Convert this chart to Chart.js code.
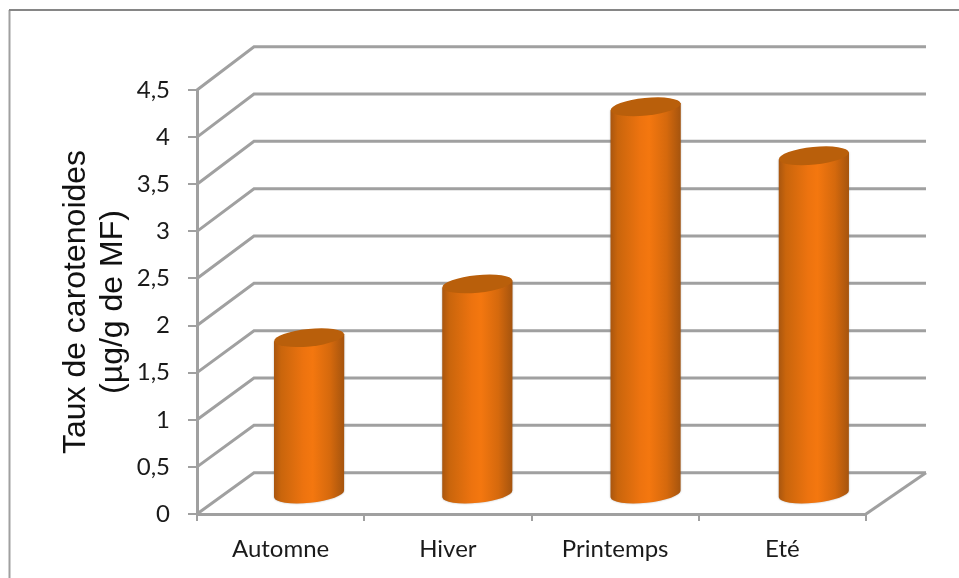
<!DOCTYPE html>
<html>
<head>
<meta charset="utf-8">
<title>Taux de carotenoides</title>
<script src="https://cdn.jsdelivr.net/npm/chart.js@4"></script>
<style>
  html, body { margin: 0; padding: 0; background: #fff; }
  #wrap { position: relative; width: 959px; height: 578px; overflow: hidden; }
</style>
</head>
<body>
<div id="wrap"><canvas id="myChart" width="959" height="578"></canvas></div>
<script>
"use strict";
const seasons = ["Automne", "Hiver", "Printemps", "Eté"];
const carotenoids = [1.67, 2.24, 4.12, 3.6];
const yTitleLines = ["Taux de carotenoides", "(µg/g de MF)"];
const yMax = 4.5;
const yStep = 0.5;

// receding floor offset of the fake 3D box
const depthX = 57;
const depthY = 41.3;
// the back wall is a touch larger than the front plane
const backStretchX = 3;
const backStretchY = 0.0047;
// the cylinders stand in the middle of the floor
const barShiftX = 28;
const barShiftY = 19;
const gridColor = "#a0a0a0";

// outer frame, open on the right and at the bottom
const framePlugin = {
  id: "frame",
  beforeDraw(chart) {
    const ctx = chart.ctx;
    ctx.save();
    ctx.lineWidth = 2;
    ctx.strokeStyle = "#a0a0a0";
    ctx.beginPath();
    ctx.moveTo(9.5, 578);
    ctx.lineTo(9.5, 10);
    ctx.stroke();
    ctx.strokeStyle = "#868686";
    ctx.beginPath();
    ctx.moveTo(9, 10);
    ctx.lineTo(959, 10);
    ctx.stroke();
    ctx.restore();
  }
};

// side wall and back wall grid lines, plus the floor edge on the right
const boxGridPlugin = {
  id: "boxGrid",
  beforeDatasetsDraw(chart) {
    const ctx = chart.ctx;
    const area = chart.chartArea;
    const y = chart.scales.y;
    const floor = y.getPixelForValue(0);
    const backRight = area.right + depthX + backStretchX;
    ctx.save();
    ctx.strokeStyle = gridColor;
    ctx.lineWidth = 3;
    y.ticks.forEach(tick => {
      const py = y.getPixelForValue(tick.value);
      const backY = py - depthY - (floor - py) * backStretchY;
      ctx.beginPath();
      ctx.moveTo(area.left, py);
      ctx.lineTo(area.left + depthX, backY);
      ctx.lineTo(backRight, backY);
      ctx.stroke();
    });
    ctx.beginPath();
    ctx.moveTo(area.right, floor);
    ctx.lineTo(backRight, floor - depthY);
    ctx.stroke();
    ctx.restore();
  }
};

// each bar element is painted as a tilted cylinder from its own x, y, base and width
const cylinderPlugin = {
  id: "cylinders",
  afterDatasetsDraw(chart) {
    const ctx = chart.ctx;
    const area = chart.chartArea;
    chart.getDatasetMeta(0).data.forEach(bar => {
      const cx = bar.x + barShiftX + (bar.x - area.left) * 0.006;
      const top = bar.y - barShiftY;
      const bottom = bar.base - barShiftY;
      const rx = bar.width / 2;
      const ry = 8.8;
      const tilt = -0.1;
      const left = cx - rx;
      const right = cx + rx;
      const edge = rx * Math.sin(-tilt);

      const side = ctx.createLinearGradient(left, 0, right, 0);
      side.addColorStop(0, "#a9560f");
      side.addColorStop(0.1, "#c9650c");
      side.addColorStop(0.42, "#ed730f");
      side.addColorStop(0.55, "#f4770f");
      side.addColorStop(0.8, "#d5690d");
      side.addColorStop(1, "#a5540e");

      ctx.save();
      ctx.shadowColor = "rgba(90,90,90,0.45)";
      ctx.shadowBlur = 2;
      ctx.fillStyle = side;
      ctx.beginPath();
      ctx.moveTo(left, top + edge);
      ctx.lineTo(left, bottom + edge);
      ctx.ellipse(cx, bottom, rx, ry, tilt, Math.PI, 0, true);
      ctx.lineTo(right, top - edge);
      ctx.closePath();
      ctx.fill();
      ctx.shadowColor = "transparent";
      ctx.fillStyle = "#b95f0b";
      ctx.beginPath();
      ctx.ellipse(cx, top, rx, ry, tilt, 0, Math.PI * 2);
      ctx.fill();
      ctx.restore();
    });
  }
};

function init() {
  makeChart();
}

function makeChart() {
  let ctx = document.getElementById("myChart");
  new Chart(ctx, {
    type: "bar",
    data: {
      labels: seasons,
      datasets: [{
        data: carotenoids,
        backgroundColor: "rgba(0,0,0,0)",
        barPercentage: 0.42,
        categoryPercentage: 1
      }]
    },
    options: {
      responsive: false,
      animation: false,
      layout: { padding: { top: 90, right: 93, left: 0, bottom: 0 } },
      plugins: {
        legend: { display: false },
        tooltip: { enabled: false }
      },
      scales: {
        x: {
          afterFit(scale) { scale.height = 64; },
          grid: {
            drawOnChartArea: false,
            color: gridColor,
            lineWidth: 2,
            tickLength: 7,
            offset: true
          },
          border: { color: gridColor, width: 3 },
          ticks: {
            color: "#1a1a1a",
            padding: 14,
            maxRotation: 0,
            font: { family: "Lato", size: 24 }
          }
        },
        y: {
          min: 0,
          max: yMax,
          afterFit(scale) { scale.width = 197; },
          grid: {
            drawOnChartArea: false,
            color: gridColor,
            lineWidth: 2,
            tickLength: 9
          },
          border: { color: gridColor, width: 3 },
          ticks: {
            stepSize: yStep,
            color: "#1a1a1a",
            padding: 18,
            font: { family: "Lato", size: 24 },
            callback: value => String(value).replace(".", ",")
          },
          title: {
            display: true,
            text: yTitleLines,
            color: "#111",
            padding: { top: 58, bottom: 0 },
            font: { family: "Liberation Sans", size: 32, lineHeight: 1.15 }
          }
        }
      }
    },
    plugins: [framePlugin, boxGridPlugin, cylinderPlugin]
  });
}

window.addEventListener("DOMContentLoaded", init);
</script>
</body>
</html>
